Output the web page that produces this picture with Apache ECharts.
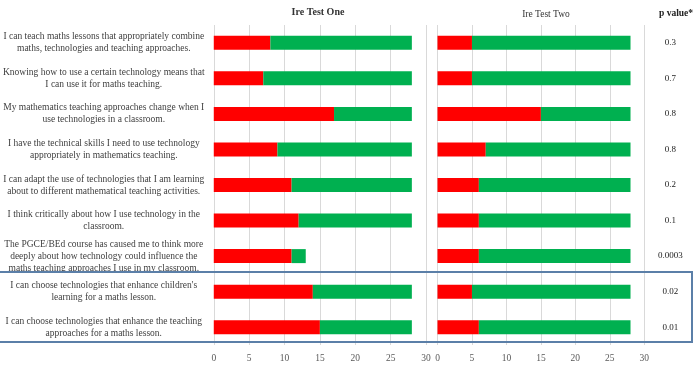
<!DOCTYPE html>
<html>
<head>
<meta charset="utf-8">
<script src="https://cdn.jsdelivr.net/npm/echarts@6/dist/echarts.min.js"></script>
<style>
  html, body { margin: 0; padding: 0; background: #fff; }
  #chart { width: 695px; height: 373px; }
</style>
</head>
<body>
<div id="chart"></div>
<script>
// statements (rows, top to bottom)
const statements = [
  "I can teach maths lessons that appropriately combine\nmaths, technologies and teaching approaches.",
  "Knowing how to use a certain technology means that\nI can use it for maths teaching.",
  "My mathematics teaching approaches change when I\nuse technologies in a classroom.",
  "I have the technical skills I need to use technology\nappropriately in mathematics teaching.",
  "I can adapt the use of technologies that I am learning\nabout to different mathematical teaching activities.",
  "I think critically about how I use technology in the\nclassroom.",
  "The PGCE/BEd course has caused me to think more\ndeeply about how technology could influence the\nmaths teaching approaches I use in my classroom.",
  "I can choose technologies that enhance children's\nlearning for a maths lesson.",
  "I can choose technologies that enhance the teaching\napproaches for a maths lesson."
];

// test one
const oneRed = [8, 7, 17, 9, 11, 12, 11, 14, 15];
const oneGreen = [20, 21, 11, 19, 17, 16, 2, 14, 13];

// test two
const twoRed = [5, 5, 15, 7, 6, 6, 6, 5, 6];
const twoGreen = [23, 23, 13, 21, 22, 22, 22, 23, 22];

const pValues = ["0.3", "0.7", "0.8", "0.8", "0.2", "0.1", "0.0003", "0.02", "0.01"];

const xTicks = [0, 30, 5]; // min, max, interval

const serif = "'Liberation Serif', 'DejaVu Serif', serif";
const red = "#ff0000";
const green = "#00b050";

function valueAxis(idx) {
  return {
    type: "value",
    gridIndex: idx,
    min: xTicks[0],
    max: xTicks[1],
    interval: xTicks[2],
    axisLine: { show: false },
    axisTick: { show: false },
    splitLine: { lineStyle: { color: "#d9d9d9", width: 1 } },
    axisLabel: { color: "#595959", fontFamily: serif, fontSize: 9.5, margin: 8 }
  };
}

let ec = echarts.init(document.getElementById("chart"));
ec.setOption({
  animation: false,
  title: [
    { text: "Ire Test One", left: 313, top: 2, textAlign: "center",
      textStyle: { fontFamily: serif, fontSize: 10, fontWeight: "bold", color: "#333" } },
    { text: "Ire Test Two", left: 541, top: 4, textAlign: "center",
      textStyle: { fontFamily: serif, fontSize: 9.5, fontWeight: "normal", color: "#333" } },
    { text: "p value*", left: 671, top: 4, textAlign: "center",
      textStyle: { fontFamily: serif, fontSize: 9.5, fontWeight: "bold", color: "#222" } }
  ],
  grid: [
    { left: 213, right: 269, top: 25, bottom: 28 },
    { left: 437.5, right: 50.7, top: 25, bottom: 28 }
  ],
  xAxis: [valueAxis(0), valueAxis(1)],
  yAxis: [
    {
      type: "category",
      gridIndex: 0,
      data: statements,
      inverse: true,
      axisLine: { show: false },
      axisTick: { show: false },
      axisLabel: {
        align: "center",
        margin: 110,
        fontFamily: serif,
        fontSize: 9.5,
        lineHeight: 12,
        color: "#404040"
      }
    },
    {
      type: "category",
      gridIndex: 1,
      data: pValues,
      inverse: true,
      position: "right",
      axisLine: { show: false },
      axisTick: { show: false },
      axisLabel: {
        align: "center",
        margin: 26,
        padding: [0, 0, 18, 0],
        fontFamily: serif,
        fontSize: 9,
        color: "#222"
      }
    }
  ],
  series: [
    { type: "bar", name: "red1", stack: "one", xAxisIndex: 0, yAxisIndex: 0,
      barWidth: 14, data: oneRed, itemStyle: { color: red } },
    { type: "bar", name: "green1", stack: "one", xAxisIndex: 0, yAxisIndex: 0,
      barWidth: 14, data: oneGreen, itemStyle: { color: green } },
    { type: "bar", name: "red2", stack: "two", xAxisIndex: 1, yAxisIndex: 1,
      barWidth: 14, data: twoRed, itemStyle: { color: red } },
    { type: "bar", name: "green2", stack: "two", xAxisIndex: 1, yAxisIndex: 1,
      barWidth: 14, data: twoGreen, itemStyle: { color: green } }
  ],
  graphic: [
    {
      type: "rect",
      shape: { x: -2, y: 272, width: 694, height: 70 },
      style: { fill: "none", stroke: "#5b7fa8", lineWidth: 2 },
      z: 100
    }
  ]
});
</script>
</body>
</html>
